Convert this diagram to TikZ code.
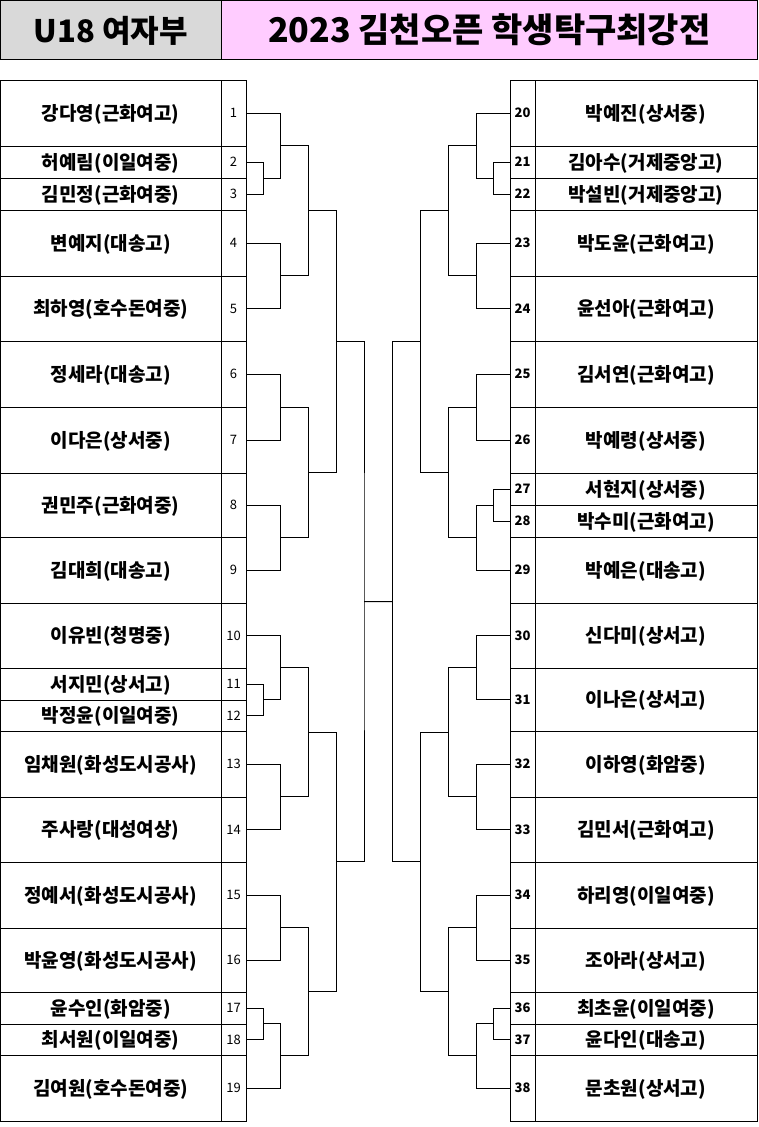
\documentclass[tikz,border=0pt]{standalone}
\usepackage{fontspec}
\setmainfont{Noto Sans CJK KR}
\definecolor{titlegray}{HTML}{D9D9D9}
\definecolor{titlepink}{HTML}{FFCCFF}

% #1 and #2 meet at column #3, the meeting point is called #4
\newcommand\joinpair[4]{%
  \path (#1) -- (#2) coordinate[pos=.5] (#4m);
  \coordinate (#4) at (#4m -| #3);
  \draw (#1) -| (#4) |- (#2);
}

\begin{document}
\begin{tikzpicture}[x=1pt,y=-1pt,line width=1pt,
    cell/.style={draw,inner sep=0pt,outer sep=0pt},
    namecell/.style={cell,text height=14pt,text depth=0pt,font=\bfseries\fontsize{19}{22}\selectfont},
    numcell/.style={cell,minimum width=25pt,text height=9.5pt,text depth=0pt,font=\fontsize{13}{15}\selectfont},
    titlecell/.style={cell,minimum height=58.8pt,text height=25pt,text depth=0pt,font=\bfseries\fontsize{31}{36}\selectfont}]
    \useasboundingbox (0,0) rectangle (758,1127);
    % header
    \node[titlecell,fill=titlegray,minimum width=220.5pt] (cls) at (110.75,29.9) {U18 여자부};
    \node[titlecell,fill=titlepink,minimum width=536.5pt,font=\bfseries\fontsize{34}{40}\selectfont] (title) at (489.25,29.9) {2023 김천오픈 학생탁구최강전};
    % left half
    \foreach \k/\ya/\yb/\who in {1/80/146/강다영(근화여고), 2/146/178/허예림(이일여중), 3/178/210/김민정(근화여중),
        4/210/276/변예지(대송고), 5/276/341/최하영(호수돈여중), 6/341/407/정세라(대송고),
        7/407/473/이다은(상서중), 8/473/537/권민주(근화여중), 9/537/603/김대희(대송고),
        10/603/668/이유빈(청명중), 11/668/700/서지민(상서고), 12/700/731/박정윤(이일여중),
        13/731/797/임채원(화성도시공사), 14/797/862/주사랑(대성여상), 15/862/928/정예서(화성도시공사),
        16/928/992/박윤영(화성도시공사), 17/992/1024/윤수인(화암중), 18/1024/1055/최서원(이일여중),
        19/1055/1121/김여원(호수돈여중)} {
        \node[namecell,minimum width=220.5pt,minimum height={(\yb-\ya)*1pt}] (p\k) at (110.75,{(\ya+\yb)/2}) {\who};
        \node[numcell,minimum height={(\yb-\ya)*1pt}] (n\k) at (233.5,{(\ya+\yb)/2}) {\k};
    }
    % right half
    \foreach \k/\ya/\yb/\who in {20/80/146/박예진(상서중), 21/146/178/김아수(거제중앙고), 22/178/210/박설빈(거제중앙고),
        23/210/276/박도윤(근화여고), 24/276/341/윤선아(근화여고), 25/341/407/김서연(근화여고),
        26/407/473/박예령(상서중), 27/473/505/서현지(상서중), 28/505/537/박수미(근화여고),
        29/537/603/박예은(대송고), 30/603/668/신다미(상서고), 31/668/731/이나은(상서고),
        32/731/797/이하영(화암중), 33/797/862/김민서(근화여고), 34/862/928/하리영(이일여중),
        35/928/992/조아라(상서고), 36/992/1024/최초윤(이일여중), 37/1024/1055/윤다인(대송고),
        38/1055/1121/문초원(상서고)} {
        \node[numcell,font=\bfseries\fontsize{13}{15}\selectfont,minimum height={(\yb-\ya)*1pt}] (n\k) at (522.5,{(\ya+\yb)/2}) {\k};
        \node[namecell,minimum width=222pt,minimum height={(\yb-\ya)*1pt}] (p\k) at (646,{(\ya+\yb)/2}) {\who};
    }
    % bracket columns
    \coordinate (c1) at (263.3,0);
    \coordinate (c2) at (280.3,0);
    \coordinate (c3) at (308.3,0);
    \coordinate (c4) at (336.3,0);
    \coordinate (c5) at (364,0);
    \coordinate (d1) at (493.3,0);
    \coordinate (d2) at (476.3,0);
    \coordinate (d3) at (448.3,0);
    \coordinate (d4) at (420.3,0);
    \coordinate (d5) at (392.3,0);
    % left bracket
    \joinpair{n2.east}{n3.east}{c1}{a23}
    \joinpair{n1.east}{a23}{c2}{a1}
    \joinpair{n4.east}{n5.east}{c2}{a45}
    \joinpair{a1}{a45}{c3}{b1}
    \joinpair{n6.east}{n7.east}{c2}{a67}
    \joinpair{n8.east}{n9.east}{c2}{a89}
    \joinpair{a67}{a89}{c3}{b2}
    \joinpair{b1}{b2}{c4}{e1}
    \joinpair{n11.east}{n12.east}{c1}{a1112}
    \joinpair{n10.east}{a1112}{c2}{a10}
    \joinpair{n13.east}{n14.east}{c2}{a1314}
    \joinpair{a10}{a1314}{c3}{b3}
    \joinpair{n15.east}{n16.east}{c2}{a1516}
    \joinpair{n17.east}{n18.east}{c1}{a1718}
    \joinpair{a1718}{n19.east}{c2}{a19}
    \joinpair{a1516}{a19}{c3}{b4}
    \joinpair{b3}{b4}{c4}{e2}
    \joinpair{e1}{e2}{c5}{fl}
    % right bracket
    \joinpair{n21.west}{n22.west}{d1}{r2122}
    \joinpair{n20.west}{r2122}{d2}{r20}
    \joinpair{n23.west}{n24.west}{d2}{r2324}
    \joinpair{r20}{r2324}{d3}{s1}
    \joinpair{n25.west}{n26.west}{d2}{r2526}
    \joinpair{n27.west}{n28.west}{d1}{r2728}
    \joinpair{r2728}{n29.west}{d2}{r29}
    \joinpair{r2526}{r29}{d3}{s2}
    \joinpair{s1}{s2}{d4}{t1}
    \joinpair{n30.west}{n31.west}{d2}{r3031}
    \joinpair{n32.west}{n33.west}{d2}{r3233}
    \joinpair{r3031}{r3233}{d3}{s3}
    \joinpair{n34.west}{n35.west}{d2}{r3435}
    \joinpair{n36.west}{n37.west}{d1}{r3637}
    \joinpair{r3637}{n38.west}{d2}{r38}
    \joinpair{r3435}{r38}{d3}{s4}
    \joinpair{s3}{s4}{d4}{t2}
    \joinpair{t1}{t2}{d5}{fr}
    % final
    \draw (fl) -- (fr);
\end{tikzpicture}
\end{document}
